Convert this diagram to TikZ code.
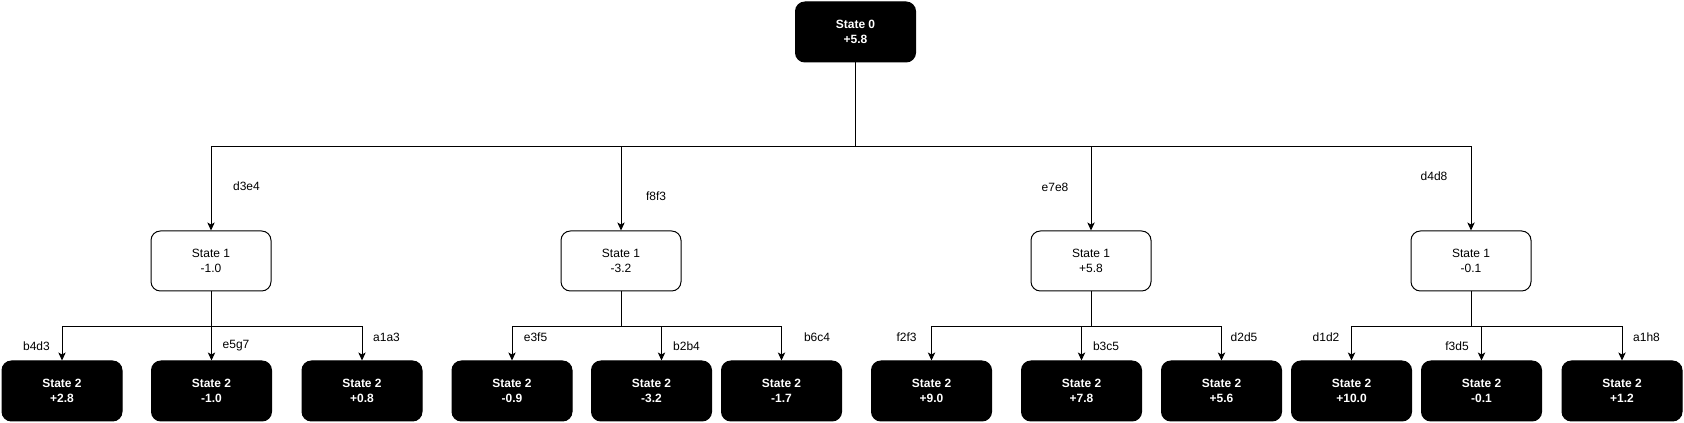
\documentclass[tikz,border=0pt]{standalone}
\usepackage{fontspec}
\setmainfont{Liberation Sans}
\usetikzlibrary{arrows.meta}

\tikzset{
  box/.style={rounded corners=7pt, minimum width=90pt, minimum height=45pt, inner sep=0pt,
    align=center, line width=0.75pt, font=\fontsize{9}{10.8}\selectfont},
  dark/.style={box, draw=black, fill=black, text=white, font=\fontsize{9}{10.8}\selectfont\bfseries},
  light/.style={box, draw=black, fill=white},
  arr/.style={-{Stealth[length=6pt,width=5.5pt,inset=1.5pt]}, line width=0.75pt},
  mv/.style={font=\fontsize{9}{10.8}\selectfont, inner sep=0pt}
}

\begin{document}
\begin{tikzpicture}[x=0.75pt,y=-0.75pt]
\useasboundingbox (0,0) rectangle (1684,423);

% root
\node[dark] (s0) at (855.5,32) {State 0\\+5.8};

% first moves
\foreach \n/\x/\v in {a/211/-1.0, b/621/-3.2, c/1091/+5.8, d/1471/-0.1}
  \node[light] (s1\n) at (\x,261) {State 1\\\v};
\foreach \n in {a,b,c,d}
  \draw[arr] (s0.south) -- ++(0,84) -| (s1\n.north);

% second moves
\foreach \n/\x/\v in {aa/62/+2.8, ab/211.5/-1.0, ac/362/+0.8,
                      ba/512/-0.9, bb/651.5/-3.2, bc/781.5/-1.7,
                      ca/931.5/+9.0, cb/1081.5/+7.8, cc/1221.5/+5.6,
                      da/1351.5/+10.0, db/1481.5/-0.1, dc/1622/+1.2}
  \node[dark] (s2\n) at (\x,391) {State 2\\\v};
\foreach \p/\c/\s in {a/aa/0, a/ab/0, a/ac/0, b/ba/0, b/bb/7.5, b/bc/0,
                      c/ca/0, c/cb/0, c/cc/0, d/da/0, d/db/0, d/dc/0}
  \draw[arr] (s1\p.south) -- ++(0,35) -| ([xshift=\s pt]s2\c.north);

% move labels
\foreach \t/\x/\y in {d3e4/246.5/186, f8f3/656/196, e7e8/1055/187, d4d8/1434/176,
                      b4d3/36.5/346, e5g7/236/346, a1a3/386.5/337,
                      e3f5/535.5/337, b2b4/686.5/346, b6c4/817/337,
                      f2f3/906.5/337, b3c5/1106/346, d2d5/1244/337,
                      d1d2/1326/337, f3d5/1457/346, a1h8/1646.5/337}
  \node[mv] (m\t) at (\x,\y) {\t};
\end{tikzpicture}
\end{document}
